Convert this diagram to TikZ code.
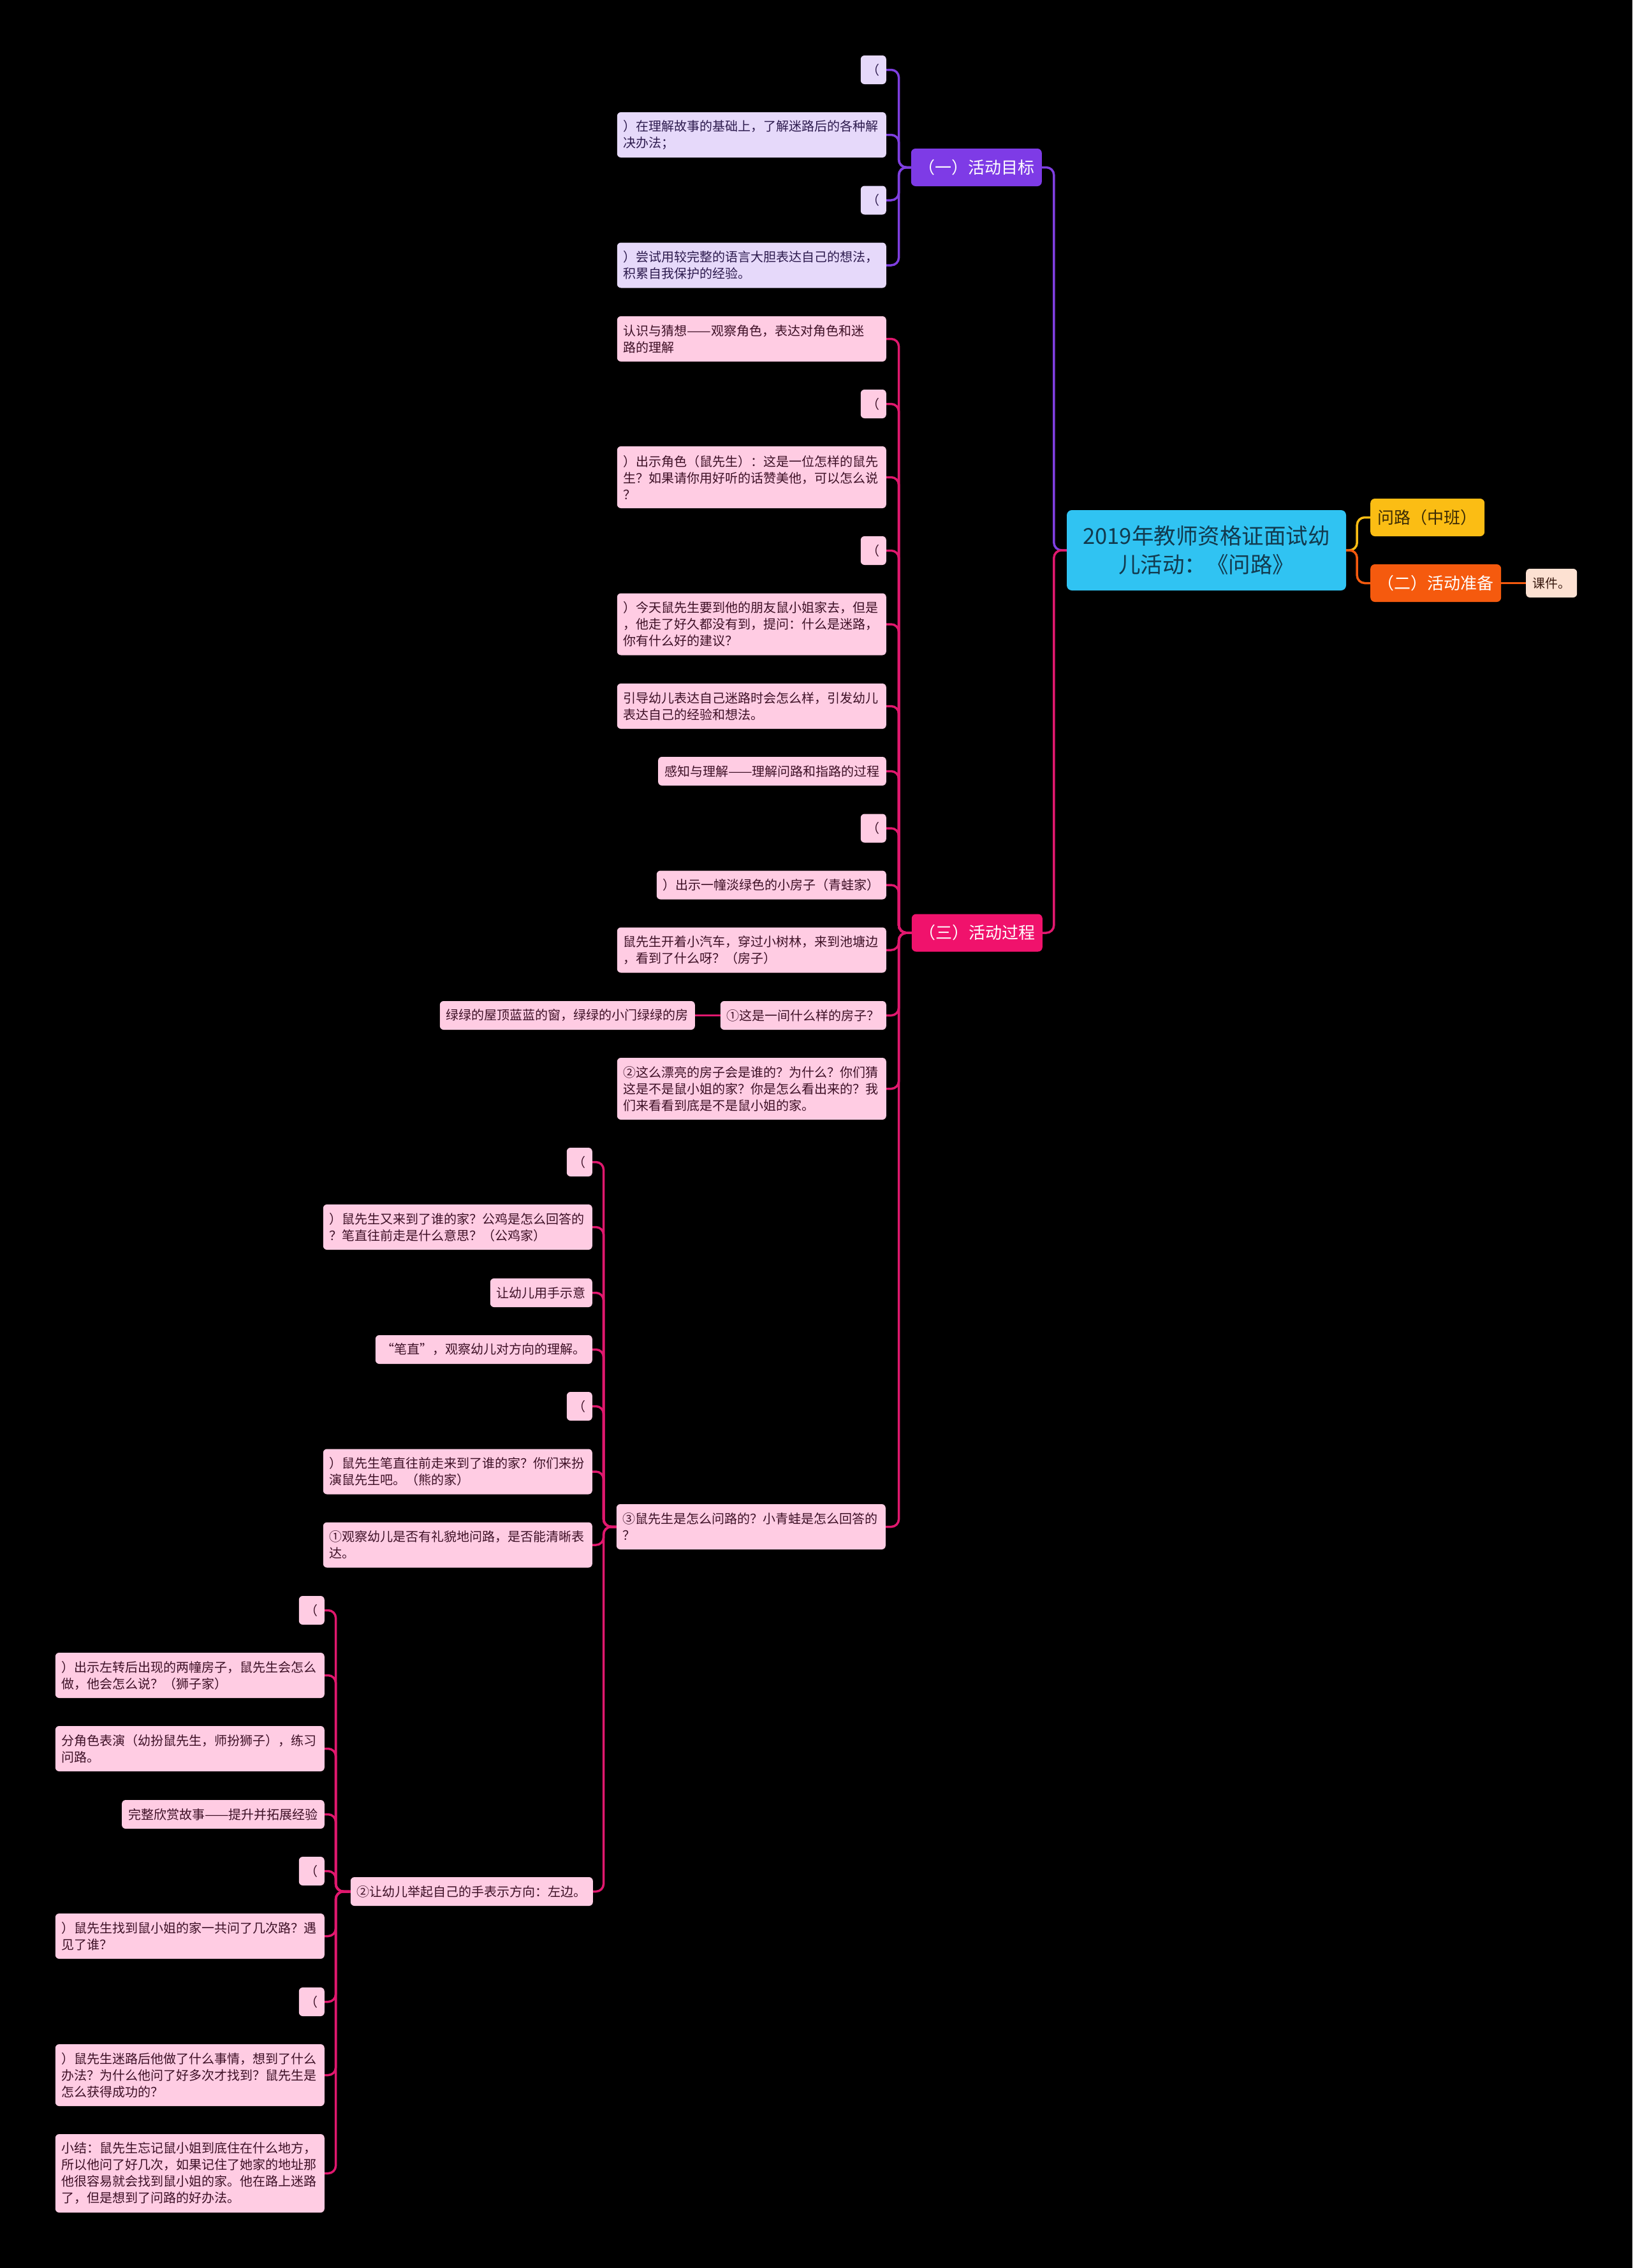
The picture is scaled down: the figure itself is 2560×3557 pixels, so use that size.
\documentclass[tikz,border=0pt]{standalone}
\usepackage{fontspec}
\usepackage{graphicx}
\setmainfont{Noto Sans CJK SC}
\definecolor{pkfill}{HTML}{FFCCE3}
\definecolor{pktext}{HTML}{3D1026}
\definecolor{lvfill}{HTML}{E6D9FA}
\definecolor{lvtext}{HTML}{2D1B4E}
\definecolor{purpfill}{HTML}{7E3BE6}
\definecolor{purpline}{HTML}{7F3FE0}
\definecolor{magfill}{HTML}{F0126C}
\definecolor{magline}{HTML}{E0186E}
\definecolor{rootfill}{HTML}{30C3F2}
\definecolor{roottext}{HTML}{123A4E}
\definecolor{yelfill}{HTML}{FBBD14}
\definecolor{yeltext}{HTML}{3A2A05}
\definecolor{orgfill}{HTML}{F55A0E}
\definecolor{peachfill}{HTML}{FDE1D2}
\definecolor{peachtext}{HTML}{3A1A10}
\newcommand{\longdash}{\scalebox{1.125}[1]{——}}
\begin{document}
\begin{tikzpicture}[x=1pt,y=-1pt,
  conn/.style={line width=3.5pt, rounded corners=12pt},
  base/.style={rounded corners=6pt, inner xsep=10pt, inner ysep=0pt, font=\fontsize{20}{26}\selectfont, align=left},
  pk/.style={base, fill=pkfill, text=pktext, anchor=east},
  lv/.style={base, fill=lvfill, text=lvtext, anchor=east},
  one/.style={minimum height=45pt},
  two/.style={minimum height=71pt, text width=402pt},
  three/.style={minimum height=97pt, text width=402pt},
  four/.style={minimum height=123pt, text width=402pt},
  topic/.style={rounded corners=7pt, inner xsep=11.5pt, inner ysep=0pt, minimum height=59pt, font=\fontsize{26}{34}\selectfont},
]
\fill[black] (0,0) rectangle (2560,3557);
\useasboundingbox (0,0) rectangle (2560,3557);

% root and first level
\node[rounded corners=8pt, fill=rootfill, text=roottext, minimum width=438pt, minimum height=126pt, align=center, inner sep=0pt, font=\fontsize{34.5}{45}\selectfont] (root) at (1892,863) {2019年教师资格证面试幼\\儿活动：《问路》};
\node[topic, fill=purpfill, text=white, anchor=east] (t1) at (1634,262.5) {（一）活动目标};
\node[topic, fill=magfill, text=white, anchor=east] (t3) at (1635,1463) {（三）活动过程};
\node[topic, fill=yelfill, text=yeltext, anchor=west] (t0) at (2149,811.5) {问路（中班）};
\node[topic, fill=orgfill, text=white, anchor=west] (t2) at (2149,914.5) {（二）活动准备};
\node[base, one, fill=peachfill, text=peachtext, anchor=west] (kj) at (2393,914.5) {课件。};

% purple branch
\node[lv, one] (p1) at (1390,109.5) {（};
\node[lv, two] (p2) at (1390,211.5) {）在理解故事的基础上，了解迷路后的各种解\\决办法；};
\node[lv, one] (p3) at (1390,314) {（};
\node[lv, two] (p4) at (1390,416) {）尝试用较完整的语言大胆表达自己的想法，\\积累自我保护的经验。};

% magenta branch
\node[pk, two] (m1) at (1390,531.5) {认识与猜想\longdash 观察角色，表达对角色和迷\\路的理解};
\node[pk, one] (m2) at (1390,633.5) {（};
\node[pk, three] (m3) at (1390,748.5) {）出示角色（鼠先生）：这是一位怎样的鼠先\\生？如果请你用好听的话赞美他，可以怎么说\\？};
\node[pk, one] (m4) at (1390,863.5) {（};
\node[pk, three] (m5) at (1390,979) {）今天鼠先生要到他的朋友鼠小姐家去，但是\\，他走了好久都没有到，提问：什么是迷路，\\你有什么好的建议？};
\node[pk, two] (m6) at (1390,1107.5) {引导幼儿表达自己迷路时会怎么样，引发幼儿\\表达自己的经验和想法。};
\node[pk, one] (m7) at (1390,1209.5) {感知与理解\longdash 理解问路和指路的过程};
\node[pk, one] (m8) at (1390,1299) {（};
\node[pk, one] (m9) at (1390,1388) {）出示一幢淡绿色的小房子（青蛙家）};
\node[pk, two] (m10) at (1390,1490) {鼠先生开着小汽车，穿过小树林，来到池塘边\\，看到了什么呀？（房子）};
\node[pk, one] (m11) at (1390,1592.5) {①这是一间什么样的房子？};
\node[pk, one] (m11a) at (1090,1592.5) {绿绿的屋顶蓝蓝的窗，绿绿的小门绿绿的房};
\node[pk, three] (m12) at (1390,1707.5) {②这么漂亮的房子会是谁的？为什么？你们猜\\这是不是鼠小姐的家？你是怎么看出来的？我\\们来看看到底是不是鼠小姐的家。};
\node[pk, two] (m13) at (1389,2394.5) {③鼠先生是怎么问路的？小青蛙是怎么回答的\\？};

% children of m13
\node[pk, one] (n1) at (929,1822.5) {（};
\node[pk, two] (n2) at (929,1924.5) {）鼠先生又来到了谁的家？公鸡是怎么回答的\\？笔直往前走是什么意思？（公鸡家）};
\node[pk, one] (n3) at (929,2027.5) {让幼儿用手示意};
\node[pk, one] (n4) at (929,2116.5) {“笔直”，观察幼儿对方向的理解。};
\node[pk, one] (n5) at (929,2205.5) {（};
\node[pk, two] (n6) at (929,2308) {）鼠先生笔直往前走来到了谁的家？你们来扮\\演鼠先生吧。（熊的家）};
\node[pk, two] (n7) at (929,2423) {①观察幼儿是否有礼貌地问路，是否能清晰表\\达。};
\node[pk, one] (n8) at (930,2966.5) {②让幼儿举起自己的手表示方向：左边。};

% children of n8
\node[pk, one] (o1) at (509,2525.5) {（};
\node[pk, two] (o2) at (509,2627.5) {）出示左转后出现的两幢房子，鼠先生会怎么\\做，他会怎么说？（狮子家）};
\node[pk, two] (o3) at (509,2742.5) {分角色表演（幼扮鼠先生，师扮狮子），练习\\问路。};
\node[pk, one] (o4) at (509,2845.5) {完整欣赏故事\longdash 提升并拓展经验};
\node[pk, one] (o5) at (509,2934.5) {（};
\node[pk, two] (o6) at (509,3036.5) {）鼠先生找到鼠小姐的家一共问了几次路？遇\\见了谁？};
\node[pk, one] (o7) at (509,3139.5) {（};
\node[pk, three] (o8) at (509,3254.5) {）鼠先生迷路后他做了什么事情，想到了什么\\办法？为什么他问了好多次才找到？鼠先生是\\怎么获得成功的？};
\node[pk, four] (o9) at (509,3408.5) {小结：鼠先生忘记鼠小姐到底住在什么地方，\\所以他问了好几次，如果记住了她家的地址那\\他很容易就会找到鼠小姐的家。他在路上迷路\\了，但是想到了问路的好办法。};

% connectors
\draw[conn, purpline] (root.west) -- ++(-20,0) |- (t1.east);
\draw[conn, magline] (root.west) -- ++(-20,0) |- (t3.east);
\draw[conn, yelfill] (root.east) -- ++(17,0) |- (t0.west);
\draw[conn, orgfill] (root.east) -- ++(17,0) |- (t2.west);
\draw[conn, orgfill] (t2.east) -- (kj.west);
\foreach \c in {p1,p2,p3,p4}
  \draw[conn, purpline] (t1.west) -- ++(-19,0) |- (\c.east);
\foreach \c in {m1,m2,m3,m4,m5,m6,m7,m8,m9,m10,m11,m12,m13}
  \draw[conn, magline] (t3.west) -- ++(-20,0) |- (\c.east);
\draw[conn, magline] (m11.west) -- (m11a.east);
\foreach \c in {n1,n2,n3,n4,n5,n6,n7,n8}
  \draw[conn, magline] (m13.west) -- ++(-20,0) |- (\c.east);
\foreach \c in {o1,o2,o3,o4,o5,o6,o7,o8,o9}
  \draw[conn, magline] (n8.west) -- ++(-23,0) |- (\c.east);
\end{tikzpicture}
\end{document}
